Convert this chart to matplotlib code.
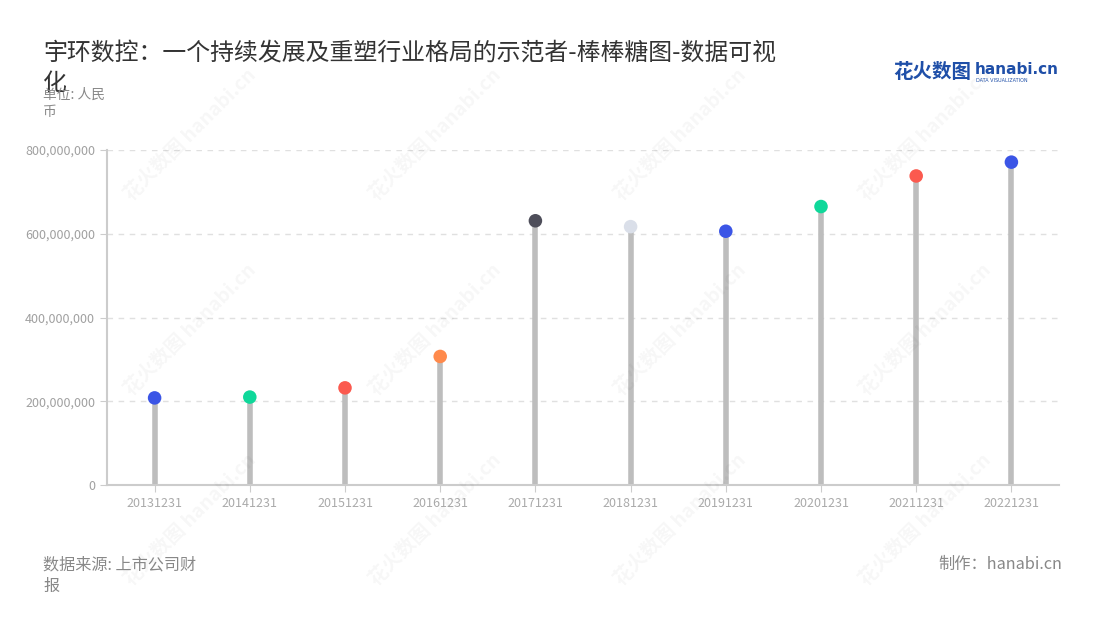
import matplotlib
matplotlib.use("Agg")
import matplotlib.pyplot as plt
from matplotlib.ticker import FuncFormatter

plt.rcParams['font.family'] = ['Noto Sans CJK SC', 'DejaVu Sans']

# data
dates = ["20131231", "20141231", "20151231", "20161231", "20171231",
         "20181231", "20191231", "20201231", "20211231", "20221231"]
values = [208e6, 210e6, 232e6, 307e6, 631e6, 617e6, 606e6, 665e6, 738e6, 771e6]
dot_colors = ["#3b55e6", "#0fd89a", "#fb5a4f", "#ff8a4c", "#4e4e5a",
              "#dadfe9", "#3b55e6", "#0fd89a", "#fb5a4f", "#3b55e6"]

title = "宇环数控：一个持续发展及重塑行业格局的示范者-棒棒糖图-数据可视\n化"
unit = "单位: 人民\n币"
source = "数据来源: 上市公司财\n报"
maker = "制作：hanabi.cn"

fig = plt.figure(figsize=(11, 6.2), dpi=100)
ax = fig.add_axes([107 / 1100, 1 - 485 / 620, (1059 - 107) / 1100, (485 - 150) / 620])

# faint watermarks
for wx in [190, 435, 680, 925]:
    for wy in [135, 330, 520]:
        fig.text(wx / 1100, 1 - wy / 620, "花火数图 hanabi.cn", rotation=45,
                 ha="center", va="center", fontsize=14, color="#000000",
                 alpha=0.035, fontweight="bold", zorder=0)

x = list(range(len(dates)))
ax.vlines(x, 0, values, color="#bdbdbd", linewidth=4, zorder=2)
ax.scatter(x, values, s=95, c=dot_colors, zorder=3, linewidths=0)

ax.set_xlim(-0.5, len(dates) - 0.5)
ax.set_ylim(0, 800e6)
ax.set_yticks([0, 200e6, 400e6, 600e6, 800e6])
ax.yaxis.set_major_formatter(FuncFormatter(lambda v, p: f"{int(v):,}"))
ax.set_xticks(x)
ax.set_xticklabels(dates)
ax.grid(axis="y", linestyle=(0, (4, 4)), color="#e0e0e0", linewidth=1)
ax.set_axisbelow(True)
for s in ["top", "right"]:
    ax.spines[s].set_visible(False)
for s in ["left", "bottom"]:
    ax.spines[s].set_color("#cccccc")
    ax.spines[s].set_linewidth(1.5)
ax.tick_params(axis="y", colors="#cccccc", labelcolor="#a0a0a0", labelsize=9, length=5)
ax.tick_params(axis="x", colors="#cccccc", labelcolor="#aaaaaa", labelsize=9, length=5)

fig.text(43 / 1100, 1 - 42 / 620, title, ha="left", va="top", fontsize=17.2,
         color="#333333", linespacing=1.4)
fig.text(43 / 1100, 1 - 88 / 620, unit, ha="left", va="top", fontsize=9.9,
         color="#888888", linespacing=1.3)
fig.text(43 / 1100, 1 - 556 / 620, source, ha="left", va="top", fontsize=11.6,
         color="#888888", linespacing=1.35)
fig.text(1062 / 1100, 1 - 556 / 620, maker, ha="right", va="top", fontsize=11.7,
         color="#888888")

# logo
fig.text(893 / 1100, 1 - 72 / 620, "花火数图", ha="left", va="center", fontsize=14,
         color="#1f4fa8", fontweight="bold")
fig.text(975 / 1100, 1 - 69 / 620, "hanabi.cn", ha="left", va="center", fontsize=11,
         color="#1f4fa8", fontweight="bold", family=["DejaVu Sans"])
fig.text(976 / 1100, 1 - 80 / 620, "DATA VISUALIZATION", ha="left", va="center",
         fontsize=3.5, color="#1f4fa8", family=["DejaVu Sans"])

fig.savefig("out.png", dpi=100)
